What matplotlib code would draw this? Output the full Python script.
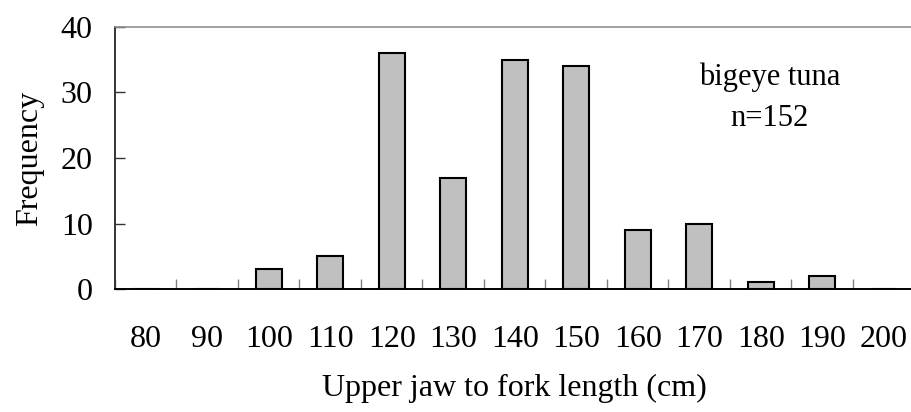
import matplotlib
matplotlib.use('Agg')
import matplotlib.pyplot as plt
import numpy as np

# Longitud mandíbula superior a horquilla (clases de 10 cm)
clases = ['80', '90', '100', '110', '120', '130', '140', '150',
          '160', '170', '180', '190', '200']
frecuencias = [0, 0, 3, 5, 36, 17, 35, 34, 9, 10, 1, 2, 0]
especie = 'bigeye tuna'
n_total = sum(frecuencias)

plt.rcParams['font.family'] = ['Liberation Serif', 'DejaVu Serif']

fig = plt.figure(figsize=(9.11, 4.12), dpi=100)
ax = fig.add_axes([0.1262, 0.2985, 0.8776, 0.636])

x = np.arange(len(clases))
ax.bar(x, frecuencias, width=0.42, color='#c0c0c0', edgecolor='black',
       linewidth=1.5, zorder=3)

ax.set_xlim(-0.5, len(clases) - 0.5)
ax.set_ylim(0, 40)
ax.set_yticks([0, 10, 20, 30, 40])
ax.tick_params(axis='y', direction='in', length=7, width=1,
               color='#333333', labelsize=23, pad=16)

# etiquetas en el centro de cada clase, marcas en los límites
ax.set_xticks(x)
ax.set_xticklabels(clases)
ax.tick_params(axis='x', length=0, labelsize=23, pad=26)
ax.set_xticks(np.arange(len(clases) + 1) - 0.5, minor=True)
ax.tick_params(axis='x', which='minor', direction='in', length=7,
               width=1, color='#808080')

ax.spines['top'].set_color('#909090')
ax.spines['top'].set_linewidth(1.2)
ax.spines['left'].set_color('#333333')
ax.spines['left'].set_linewidth(1.4)
ax.spines['bottom'].set_color('black')
ax.spines['bottom'].set_linewidth(1.4)
ax.spines['right'].set_visible(False)

ax.set_xlabel('Upper jaw to fork length (cm)', fontsize=23, labelpad=14)
ax.set_ylabel('Frequency', fontsize=23, labelpad=12)

ax.text(0.819, 0.730, f'{especie}\nn={n_total}', transform=ax.transAxes,
        ha='center', va='center', fontsize=22, linespacing=1.55)

plt.savefig('out.png', dpi=100)
